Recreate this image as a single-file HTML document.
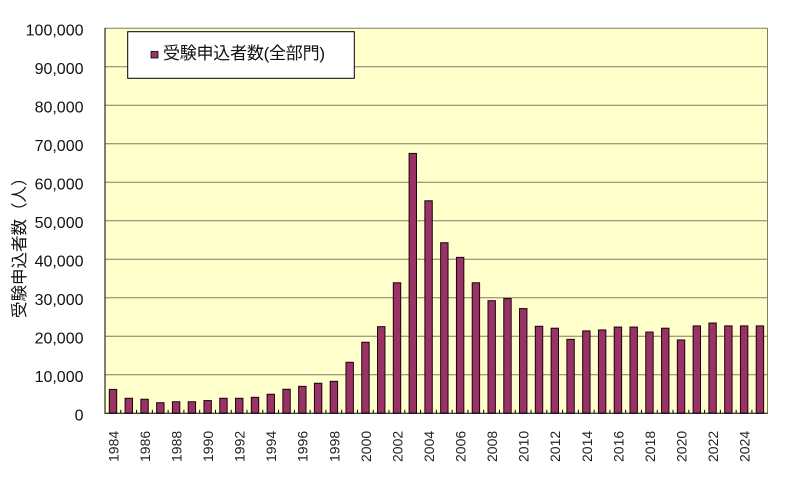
<!DOCTYPE html>
<html><head><meta charset="utf-8"><style>
html,body{margin:0;padding:0;background:#fff;}
svg{display:block;}
</style></head><body>
<svg width="795" height="491" viewBox="0 0 795 491" xmlns="http://www.w3.org/2000/svg">
<defs>
<linearGradient id="sh" x1="0" y1="0" x2="1" y2="0">
<stop offset="0" stop-color="#000" stop-opacity="0.55"/>
<stop offset="1" stop-color="#000" stop-opacity="0"/>
</linearGradient>
</defs>
<rect x="0" y="0" width="795" height="491" fill="#fff"/>
<rect x="105" y="28.3" width="662.5" height="385" fill="#FFFFCC"/>
<g stroke="#7f7f66" stroke-width="1">
<line x1="105" y1="28.3" x2="767.5" y2="28.3"/>
<line x1="105" y1="66.8" x2="767.5" y2="66.8"/>
<line x1="105" y1="105.3" x2="767.5" y2="105.3"/>
<line x1="105" y1="143.8" x2="767.5" y2="143.8"/>
<line x1="105" y1="182.3" x2="767.5" y2="182.3"/>
<line x1="105" y1="220.8" x2="767.5" y2="220.8"/>
<line x1="105" y1="259.3" x2="767.5" y2="259.3"/>
<line x1="105" y1="297.8" x2="767.5" y2="297.8"/>
<line x1="105" y1="336.3" x2="767.5" y2="336.3"/>
<line x1="105" y1="374.8" x2="767.5" y2="374.8"/>
<line x1="767.5" y1="28.3" x2="767.5" y2="413.3"/>
</g>
<g fill="url(#sh)">
<rect x="111.8" y="392.4" width="5" height="20.9"/>
<rect x="127.6" y="401.3" width="5" height="12"/>
<rect x="143.4" y="402.3" width="5" height="11"/>
<rect x="159.1" y="405.7" width="5" height="7.6"/>
<rect x="174.9" y="404.8" width="5" height="8.5"/>
<rect x="190.7" y="404.8" width="5" height="8.5"/>
<rect x="206.5" y="403.6" width="5" height="9.7"/>
<rect x="222.3" y="401.3" width="5" height="12"/>
<rect x="238.0" y="401.3" width="5" height="12"/>
<rect x="253.8" y="400.3" width="5" height="13"/>
<rect x="269.6" y="397.2" width="5" height="16.1"/>
<rect x="285.4" y="392.2" width="5" height="21.1"/>
<rect x="301.1" y="389.4" width="5" height="23.9"/>
<rect x="316.9" y="386.3" width="5" height="27"/>
<rect x="332.7" y="384.3" width="5" height="29"/>
<rect x="348.5" y="365.3" width="5" height="48"/>
<rect x="364.3" y="345.3" width="5" height="68"/>
<rect x="380.0" y="329.7" width="5" height="83.6"/>
<rect x="395.8" y="285.8" width="5" height="127.5"/>
<rect x="411.6" y="156.4" width="5" height="256.9"/>
<rect x="427.4" y="203.8" width="5" height="209.5"/>
<rect x="443.2" y="245.7" width="5" height="167.6"/>
<rect x="458.9" y="260.4" width="5" height="152.9"/>
<rect x="474.7" y="285.8" width="5" height="127.5"/>
<rect x="490.5" y="303.7" width="5" height="109.6"/>
<rect x="506.3" y="301.6" width="5" height="111.7"/>
<rect x="522.0" y="311.6" width="5" height="101.7"/>
<rect x="537.8" y="329.3" width="5" height="84"/>
<rect x="553.6" y="331.2" width="5" height="82.1"/>
<rect x="569.4" y="342.4" width="5" height="70.9"/>
<rect x="585.2" y="333.9" width="5" height="79.4"/>
<rect x="600.9" y="333.0" width="5" height="80.3"/>
<rect x="616.7" y="330.1" width="5" height="83.2"/>
<rect x="632.5" y="330.1" width="5" height="83.2"/>
<rect x="648.3" y="335.1" width="5" height="78.2"/>
<rect x="664.1" y="331.2" width="5" height="82.1"/>
<rect x="679.8" y="343.0" width="5" height="70.3"/>
<rect x="695.6" y="328.9" width="5" height="84.4"/>
<rect x="711.4" y="326.0" width="5" height="87.3"/>
<rect x="727.2" y="328.9" width="5" height="84.4"/>
<rect x="742.9" y="328.9" width="5" height="84.4"/>
<rect x="758.7" y="328.9" width="4.5" height="84.4"/>
</g>
<g fill="#993366" stroke="#1a0010" stroke-width="1">
<rect x="109.3" y="389.43" width="7.4" height="23.87"/>
<rect x="125.08" y="398.28" width="7.4" height="15.02"/>
<rect x="140.86" y="399.25" width="7.4" height="14.05"/>
<rect x="156.64" y="402.71" width="7.4" height="10.59"/>
<rect x="172.41" y="401.75" width="7.4" height="11.55"/>
<rect x="188.19" y="401.75" width="7.4" height="11.55"/>
<rect x="203.97" y="400.59" width="7.4" height="12.71"/>
<rect x="219.75" y="398.28" width="7.4" height="15.02"/>
<rect x="235.53" y="398.28" width="7.4" height="15.02"/>
<rect x="251.31" y="397.32" width="7.4" height="15.98"/>
<rect x="267.09" y="394.24" width="7.4" height="19.06"/>
<rect x="282.86" y="389.24" width="7.4" height="24.06"/>
<rect x="298.64" y="386.35" width="7.4" height="26.95"/>
<rect x="314.42" y="383.27" width="7.4" height="30.03"/>
<rect x="330.20" y="381.34" width="7.4" height="31.96"/>
<rect x="345.98" y="362.29" width="7.4" height="51.01"/>
<rect x="361.76" y="342.27" width="7.4" height="71.03"/>
<rect x="377.54" y="326.67" width="7.4" height="86.63"/>
<rect x="393.31" y="282.78" width="7.4" height="130.52"/>
<rect x="409.09" y="153.42" width="7.4" height="259.88"/>
<rect x="424.87" y="200.78" width="7.4" height="212.52"/>
<rect x="440.65" y="242.74" width="7.4" height="170.56"/>
<rect x="456.43" y="257.37" width="7.4" height="155.93"/>
<rect x="472.21" y="282.78" width="7.4" height="130.52"/>
<rect x="487.99" y="300.69" width="7.4" height="112.61"/>
<rect x="503.77" y="298.57" width="7.4" height="114.73"/>
<rect x="519.54" y="308.58" width="7.4" height="104.72"/>
<rect x="535.32" y="326.29" width="7.4" height="87.01"/>
<rect x="551.10" y="328.21" width="7.4" height="85.09"/>
<rect x="566.88" y="339.38" width="7.4" height="73.92"/>
<rect x="582.66" y="330.91" width="7.4" height="82.39"/>
<rect x="598.44" y="329.95" width="7.4" height="83.35"/>
<rect x="614.22" y="327.06" width="7.4" height="86.24"/>
<rect x="629.99" y="327.06" width="7.4" height="86.24"/>
<rect x="645.77" y="332.06" width="7.4" height="81.24"/>
<rect x="661.55" y="328.21" width="7.4" height="85.09"/>
<rect x="677.33" y="339.96" width="7.4" height="73.34"/>
<rect x="693.11" y="325.90" width="7.4" height="87.40"/>
<rect x="708.89" y="323.02" width="7.4" height="90.28"/>
<rect x="724.67" y="325.90" width="7.4" height="87.40"/>
<rect x="740.44" y="325.90" width="7.4" height="87.40"/>
<rect x="756.22" y="325.90" width="7.4" height="87.40"/>
</g>
<g stroke="#000" stroke-width="1">
<line x1="105" y1="28" x2="105" y2="413.8"/>
<line x1="104.5" y1="413.3" x2="767.8" y2="413.3"/>
<line x1="120.78" y1="413.3" x2="120.78" y2="409.8"/>
<line x1="136.56" y1="413.3" x2="136.56" y2="409.8"/>
<line x1="152.34" y1="413.3" x2="152.34" y2="409.8"/>
<line x1="168.11" y1="413.3" x2="168.11" y2="409.8"/>
<line x1="183.89" y1="413.3" x2="183.89" y2="409.8"/>
<line x1="199.67" y1="413.3" x2="199.67" y2="409.8"/>
<line x1="215.45" y1="413.3" x2="215.45" y2="409.8"/>
<line x1="231.23" y1="413.3" x2="231.23" y2="409.8"/>
<line x1="247.01" y1="413.3" x2="247.01" y2="409.8"/>
<line x1="262.79" y1="413.3" x2="262.79" y2="409.8"/>
<line x1="278.56" y1="413.3" x2="278.56" y2="409.8"/>
<line x1="294.34" y1="413.3" x2="294.34" y2="409.8"/>
<line x1="310.12" y1="413.3" x2="310.12" y2="409.8"/>
<line x1="325.90" y1="413.3" x2="325.90" y2="409.8"/>
<line x1="341.68" y1="413.3" x2="341.68" y2="409.8"/>
<line x1="357.46" y1="413.3" x2="357.46" y2="409.8"/>
<line x1="373.24" y1="413.3" x2="373.24" y2="409.8"/>
<line x1="389.01" y1="413.3" x2="389.01" y2="409.8"/>
<line x1="404.79" y1="413.3" x2="404.79" y2="409.8"/>
<line x1="420.57" y1="413.3" x2="420.57" y2="409.8"/>
<line x1="436.35" y1="413.3" x2="436.35" y2="409.8"/>
<line x1="452.13" y1="413.3" x2="452.13" y2="409.8"/>
<line x1="467.91" y1="413.3" x2="467.91" y2="409.8"/>
<line x1="483.69" y1="413.3" x2="483.69" y2="409.8"/>
<line x1="499.47" y1="413.3" x2="499.47" y2="409.8"/>
<line x1="515.24" y1="413.3" x2="515.24" y2="409.8"/>
<line x1="531.02" y1="413.3" x2="531.02" y2="409.8"/>
<line x1="546.80" y1="413.3" x2="546.80" y2="409.8"/>
<line x1="562.58" y1="413.3" x2="562.58" y2="409.8"/>
<line x1="578.36" y1="413.3" x2="578.36" y2="409.8"/>
<line x1="594.14" y1="413.3" x2="594.14" y2="409.8"/>
<line x1="609.92" y1="413.3" x2="609.92" y2="409.8"/>
<line x1="625.69" y1="413.3" x2="625.69" y2="409.8"/>
<line x1="641.47" y1="413.3" x2="641.47" y2="409.8"/>
<line x1="657.25" y1="413.3" x2="657.25" y2="409.8"/>
<line x1="673.03" y1="413.3" x2="673.03" y2="409.8"/>
<line x1="688.81" y1="413.3" x2="688.81" y2="409.8"/>
<line x1="704.59" y1="413.3" x2="704.59" y2="409.8"/>
<line x1="720.37" y1="413.3" x2="720.37" y2="409.8"/>
<line x1="736.14" y1="413.3" x2="736.14" y2="409.8"/>
<line x1="751.92" y1="413.3" x2="751.92" y2="409.8"/>
</g>
<g font-family="'Liberation Sans', sans-serif" font-size="16" fill="#111" text-anchor="end">
<text x="83.5" y="35.7">100,000</text>
<text x="83.5" y="74.2">90,000</text>
<text x="83.5" y="112.7">80,000</text>
<text x="83.5" y="151.2">70,000</text>
<text x="83.5" y="189.7">60,000</text>
<text x="83.5" y="228.2">50,000</text>
<text x="83.5" y="266.7">40,000</text>
<text x="83.5" y="305.2">30,000</text>
<text x="83.5" y="343.7">20,000</text>
<text x="83.5" y="382.2">10,000</text>
<text x="83.5" y="420.7">0</text>
</g>
<g font-family="'Liberation Sans', sans-serif" font-size="14" fill="#222">
<text transform="translate(118.4,462) rotate(-90)">1984</text>
<text transform="translate(149.9,462) rotate(-90)">1986</text>
<text transform="translate(181.5,462) rotate(-90)">1988</text>
<text transform="translate(213.1,462) rotate(-90)">1990</text>
<text transform="translate(244.6,462) rotate(-90)">1992</text>
<text transform="translate(276.2,462) rotate(-90)">1994</text>
<text transform="translate(307.7,462) rotate(-90)">1996</text>
<text transform="translate(339.3,462) rotate(-90)">1998</text>
<text transform="translate(370.9,462) rotate(-90)">2000</text>
<text transform="translate(402.4,462) rotate(-90)">2002</text>
<text transform="translate(434.0,462) rotate(-90)">2004</text>
<text transform="translate(465.5,462) rotate(-90)">2006</text>
<text transform="translate(497.1,462) rotate(-90)">2008</text>
<text transform="translate(528.7,462) rotate(-90)">2010</text>
<text transform="translate(560.2,462) rotate(-90)">2012</text>
<text transform="translate(591.8,462) rotate(-90)">2014</text>
<text transform="translate(623.3,462) rotate(-90)">2016</text>
<text transform="translate(654.9,462) rotate(-90)">2018</text>
<text transform="translate(686.5,462) rotate(-90)">2020</text>
<text transform="translate(718.0,462) rotate(-90)">2022</text>
<text transform="translate(749.6,462) rotate(-90)">2024</text>
</g>
<text transform="translate(25,318) rotate(-90)" font-family="'Liberation Sans','Noto Sans CJK JP',sans-serif" font-size="16.5" fill="#111">受験申込者数（人）</text>
<rect x="127.7" y="31.7" width="226.6" height="46.6" fill="#fff" stroke="#000" stroke-width="1"/>
<rect x="151" y="51.5" width="7" height="6.5" fill="#993366" stroke="#000" stroke-width="0.8"/>
<text x="163" y="59" font-family="'Liberation Sans','Noto Sans CJK JP',sans-serif" font-size="17" fill="#111" textLength="162" lengthAdjust="spacing">受験申込者数(全部門)</text>
</svg>
</body></html>
